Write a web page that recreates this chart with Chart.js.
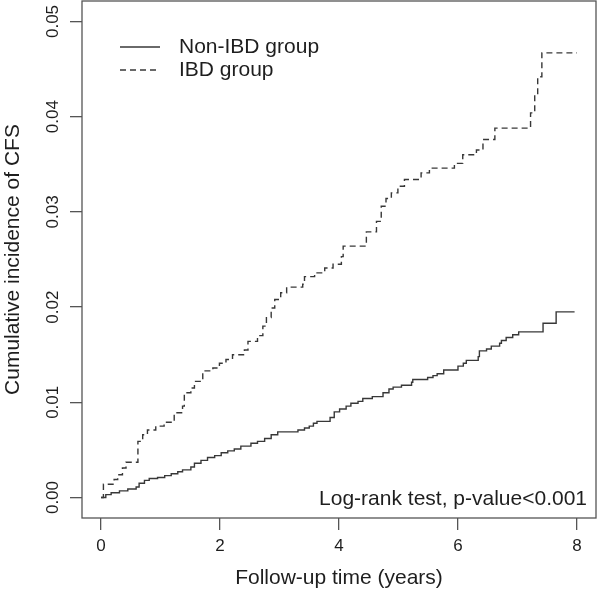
<!DOCTYPE html>
<html>
<head>
<meta charset="utf-8">
<script src="https://cdn.jsdelivr.net/npm/chart.js@4.4.1/dist/chart.umd.min.js"></script>
<style>
  html, body { margin: 0; padding: 0; background: #fff; }
  #wrap { width: 598px; height: 590px; }
</style>
</head>
<body>
<div id="wrap"><canvas id="km" width="598" height="590"></canvas></div>
<script>
// step times (years) and cumulative incidence after each step
const ibdTimes = [0, 0.04, 0.22, 0.28, 0.36, 0.42, 0.62, 0.70, 0.78, 0.92, 1.06, 1.23, 1.37, 1.40, 1.51, 1.57, 1.71, 1.88, 1.99, 2.10, 2.21, 2.41, 2.47, 2.63, 2.72, 2.78, 2.86, 2.92, 3.02, 3.12, 3.39, 3.42, 3.59, 3.76, 3.90, 4.04, 4.07, 4.46, 4.63, 4.71, 4.79, 4.88, 4.99, 5.10, 5.38, 5.52, 5.94, 6.08, 6.31, 6.42, 6.62, 7.22, 7.29, 7.34, 7.41, 8.0];
const ibdValues = [0, 0.0014, 0.0019, 0.0024, 0.0031, 0.0037, 0.0059, 0.0066, 0.0071, 0.0075, 0.0079, 0.0089, 0.0096, 0.0110, 0.0115, 0.0122, 0.0133, 0.0136, 0.0141, 0.0145, 0.0150, 0.0155, 0.0164, 0.0170, 0.0180, 0.0189, 0.0199, 0.0208, 0.0215, 0.0221, 0.0224, 0.0232, 0.0236, 0.0241, 0.0245, 0.0253, 0.0264, 0.0279, 0.0290, 0.0306, 0.0314, 0.0320, 0.0327, 0.0334, 0.0341, 0.0346, 0.0351, 0.0360, 0.0365, 0.0376, 0.0388, 0.0404, 0.0423, 0.0442, 0.0467, 0.0467];

const nonIbdTimes = [0, 0.08, 0.17, 0.31, 0.45, 0.59, 0.64, 0.73, 0.81, 0.95, 1.07, 1.18, 1.29, 1.37, 1.51, 1.57, 1.68, 1.79, 1.91, 2.02, 2.13, 2.24, 2.35, 2.52, 2.63, 2.75, 2.86, 2.97, 3.31, 3.42, 3.50, 3.57, 3.63, 3.85, 3.92, 4.01, 4.12, 4.20, 4.32, 4.40, 4.56, 4.74, 4.84, 4.91, 5.05, 5.22, 5.24, 5.49, 5.58, 5.65, 5.76, 6.00, 6.09, 6.14, 6.34, 6.36, 6.48, 6.56, 6.70, 6.73, 6.81, 6.92, 7.02, 7.43, 7.65, 7.96];
const nonIbdValues = [0, 0.0003, 0.0005, 0.0007, 0.0009, 0.0011, 0.0015, 0.0018, 0.0020, 0.0021, 0.0023, 0.0025, 0.0027, 0.0029, 0.0032, 0.0036, 0.0039, 0.0042, 0.0044, 0.0047, 0.0049, 0.0051, 0.0054, 0.0057, 0.0059, 0.0062, 0.0066, 0.0069, 0.0071, 0.0073, 0.0075, 0.0078, 0.0080, 0.0084, 0.0090, 0.0093, 0.0096, 0.0099, 0.0101, 0.0104, 0.0106, 0.0110, 0.0114, 0.0116, 0.0118, 0.0121, 0.0124, 0.0126, 0.0128, 0.0130, 0.0134, 0.0138, 0.0141, 0.0144, 0.0148, 0.0154, 0.0156, 0.0159, 0.0162, 0.0165, 0.0168, 0.0171, 0.0174, 0.0183, 0.0195, 0.0195];

const xTicks = [0, 2, 4, 6, 8];
const yTicks = [0, 0.01, 0.02, 0.03, 0.04, 0.05];
const yTickLabels = ['0.00', '0.01', '0.02', '0.03', '0.04', '0.05'];
const legendLabels = ['Non-IBD group', 'IBD group'];

const FONT = '"Liberation Sans", Arial, sans-serif';
const lineColor = '#383838';
const textColor = '#1e1e1e';

const toPoints = (xs, ys) => xs.map((x, i) => ({ x: x, y: ys[i] }));

// R style extras: box, rotated y labels, titles, legend, log-rank note
const rStyle = {
  id: 'rStyle',
  afterDraw(chart) {
    const ctx = chart.ctx;
    const a = chart.chartArea;
    const ys = chart.scales.y;
    ctx.save();
    ctx.strokeStyle = '#555';
    ctx.lineWidth = 1.3;
    ctx.strokeRect(a.left, a.top, a.right - a.left, a.bottom - a.top);

    ctx.fillStyle = textColor;
    ctx.font = '17px ' + FONT;
    ctx.textAlign = 'center';
    ctx.textBaseline = 'middle';
    yTicks.forEach((v, i) => {
      ctx.save();
      ctx.translate(53, ys.getPixelForValue(v));
      ctx.rotate(-Math.PI / 2);
      ctx.fillText(yTickLabels[i], 0, 0);
      ctx.restore();
    });

    ctx.font = '21px ' + FONT;
    ctx.textBaseline = 'alphabetic';
    ctx.fillText('Follow-up time (years)', (a.left + a.right) / 2, 584);
    ctx.save();
    ctx.translate(19, (a.top + a.bottom) / 2);
    ctx.rotate(-Math.PI / 2);
    ctx.fillText('Cumulative incidence of CFS', 0, 0);
    ctx.restore();

    // legend
    const sets = chart.data.datasets;
    [47, 70].forEach((ly, i) => {
      ctx.strokeStyle = sets[i].borderColor;
      ctx.lineWidth = sets[i].borderWidth;
      ctx.setLineDash(sets[i].borderDash || []);
      ctx.beginPath();
      ctx.moveTo(120, ly);
      ctx.lineTo(160, ly);
      ctx.stroke();
      ctx.setLineDash([]);
      ctx.textAlign = 'left';
      ctx.textBaseline = 'middle';
      ctx.fillText(legendLabels[i], 179, ly);
    });

    ctx.textAlign = 'right';
    ctx.textBaseline = 'alphabetic';
    ctx.fillText('Log-rank test, p-value<0.001', 587, 505);
    ctx.restore();
  }
};

document.addEventListener('DOMContentLoaded', function () {
  const graph = document.getElementById('km').getContext('2d');
  new Chart(graph, {
    type: 'line',
    data: {
      datasets: [{
        label: legendLabels[0],
        data: toPoints(nonIbdTimes, nonIbdValues),
        stepped: true,
        borderColor: lineColor,
        borderWidth: 1.4,
        pointRadius: 0,
        fill: false
      }, {
        label: legendLabels[1],
        data: toPoints(ibdTimes, ibdValues),
        stepped: true,
        borderColor: lineColor,
        borderWidth: 1.4,
        borderDash: [6, 4],
        pointRadius: 0,
        fill: false
      }]
    },
    options: {
      responsive: false,
      animation: false,
      layout: { padding: { top: 1, right: 2, left: 0, bottom: 0 } },
      plugins: { legend: { display: false }, tooltip: { enabled: false } },
      scales: {
        x: {
          type: 'linear',
          min: -0.32,
          max: 8.32,
          afterBuildTicks: (s) => { s.ticks = xTicks.map(v => ({ value: v })); },
          afterFit: (s) => { s.height = 72; },
          grid: { drawOnChartArea: false, drawTicks: true, tickLength: 12, color: '#555', lineWidth: 1.3 },
          border: { display: false },
          ticks: { color: textColor, font: { size: 17, family: FONT }, padding: 6, maxRotation: 0 }
        },
        y: {
          type: 'linear',
          min: -0.00215,
          max: 0.05215,
          afterBuildTicks: (s) => { s.ticks = yTicks.map(v => ({ value: v })); },
          afterFit: (s) => { s.width = 82; },
          grid: { drawOnChartArea: false, drawTicks: true, tickLength: 12, color: '#555', lineWidth: 1.3 },
          border: { display: false },
          ticks: { display: false }
        }
      }
    },
    plugins: [rStyle]
  });
});
</script>
</body>
</html>
